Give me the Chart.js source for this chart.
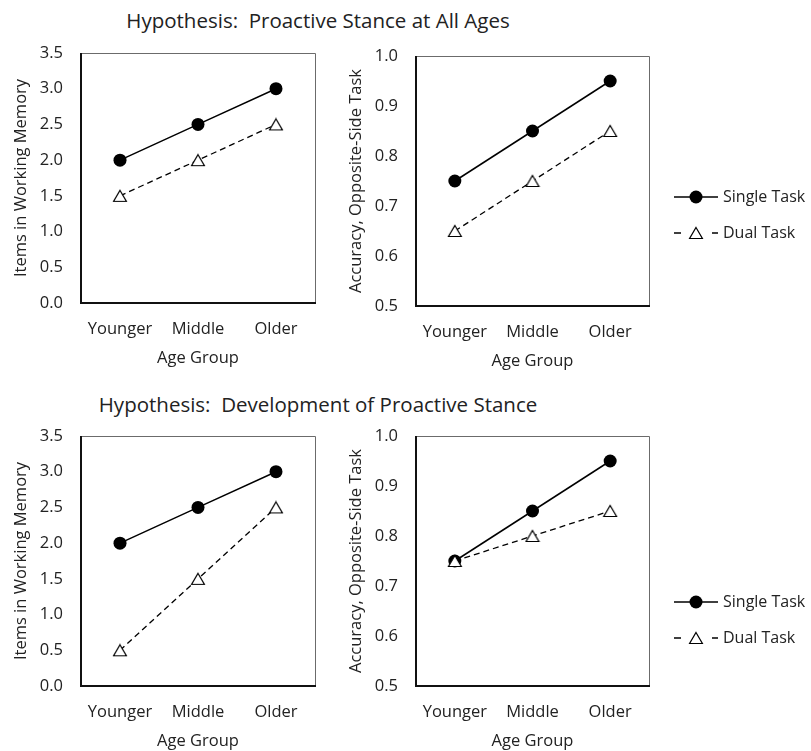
<!DOCTYPE html>
<html>
<head>
<meta charset="utf-8">
<script src="https://cdn.jsdelivr.net/npm/chart.js@4"></script>
<style>
  body { margin: 0; background: #fff; width: 811px; height: 751px; position: relative; overflow: hidden; font-family: "Open Sans", sans-serif; }
  canvas { position: absolute; }
  .row-title { position: absolute; left: 0; width: 636px; text-align: center; font-size: 20.5px; line-height: 24px; color: #222; white-space: pre; }
</style>
</head>
<body>
<div class="row-title" style="top:8px">Hypothesis:  Proactive Stance at All Ages</div>
<div class="row-title" style="top:392px">Hypothesis:  Development of Proactive Stance</div>
<canvas id="allAgesMemory" width="330" height="345" style="left:0;top:23px;width:330px;height:345px"></canvas>
<canvas id="allAgesAccuracy" width="471" height="345" style="left:340px;top:26px;width:471px;height:345px"></canvas>
<canvas id="devMemory" width="330" height="345" style="left:0;top:406px;width:330px;height:345px"></canvas>
<canvas id="devAccuracy" width="471" height="345" style="left:340px;top:406px;width:471px;height:345px"></canvas>
<script>
// Shared categories, series names and axis ticks
const ageGroups = ['Younger', 'Middle', 'Older'];
const seriesNames = ['Single Task', 'Dual Task'];
const memoryTicks = [0, 0.5, 1.0, 1.5, 2.0, 2.5, 3.0, 3.5];
const accuracyTicks = [0.5, 0.6, 0.7, 0.8, 0.9, 1.0];

// Hypothesis: proactive stance at all ages
const allAgesMemorySingle = [2.0, 2.5, 3.0];
const allAgesMemoryDual = [1.5, 2.0, 2.5];
const allAgesAccuracySingle = [0.75, 0.85, 0.95];
const allAgesAccuracyDual = [0.65, 0.75, 0.85];

// Hypothesis: development of proactive stance
const devMemorySingle = [2.0, 2.5, 3.0];
const devMemoryDual = [0.5, 1.5, 2.5];
const devAccuracySingle = [0.75, 0.85, 0.95];
const devAccuracyDual = [0.75, 0.80, 0.85];

const TEXT = '#222';
const FONT = '"Open Sans", sans-serif';
const AXIS_FONT = { size: 16.5, family: FONT };

// Open triangle marker, centred on its bounding box
function makeTriangle() {
  const c = document.createElement('canvas');
  c.width = 16; c.height = 14;
  const g = c.getContext('2d');
  g.beginPath();
  g.moveTo(8, 1.5); g.lineTo(14.4, 12.5); g.lineTo(1.6, 12.5); g.closePath();
  g.fillStyle = '#fff'; g.fill();
  g.lineWidth = 1.2; g.strokeStyle = '#000'; g.stroke();
  return c;
}
const triangle = makeTriangle();

function seriesSets(single, dual) {
  return [
    { label: seriesNames[0], data: single, borderColor: '#000', backgroundColor: '#000',
      borderWidth: 1.5, pointStyle: 'circle', pointRadius: 6.5, pointBorderWidth: 0,
      tension: 0, fill: false, order: 1 },
    { label: seriesNames[1], data: dual, borderColor: '#000', backgroundColor: '#fff',
      borderWidth: 1.3, borderDash: [6, 4], pointStyle: triangle, pointRadius: 7,
      keyDash: [7, 31], tension: 0, fill: false, order: 0 }
  ];
}

// Box round the plot area: dark axes on the left/bottom, lighter edges top/right
const plotFrame = {
  id: 'plotFrame',
  beforeDatasetsDraw(chart) {
    const { ctx, chartArea: a } = chart;
    ctx.save();
    ctx.strokeStyle = '#6b6b6b'; ctx.lineWidth = 1;
    ctx.beginPath();
    ctx.moveTo(a.left, a.top + 0.5); ctx.lineTo(a.right + 0.5, a.top + 0.5); ctx.lineTo(a.right + 0.5, a.bottom);
    ctx.stroke();
    ctx.strokeStyle = '#111'; ctx.lineWidth = 2;
    ctx.beginPath();
    ctx.moveTo(a.left, a.top); ctx.lineTo(a.left, a.bottom); ctx.lineTo(a.right + 1, a.bottom);
    ctx.stroke();
    ctx.restore();
  }
};

// Series key drawn to the right of the plot: line sample, marker, name
const seriesKey = {
  id: 'seriesKey',
  afterDraw(chart, args, opts) {
    if (!opts || !opts.rows) return;
    const { ctx, chartArea: a } = chart;
    ctx.save();
    chart.data.datasets.forEach((ds, i) => {
      const y = a.top + opts.rows[i];
      const x0 = a.right + opts.lineStart;
      const x1 = x0 + opts.lineLength;
      const xm = (x0 + x1) / 2;
      ctx.beginPath();
      ctx.setLineDash(ds.keyDash || []);
      ctx.lineWidth = ds.borderWidth;
      ctx.strokeStyle = ds.borderColor;
      ctx.moveTo(x0, y); ctx.lineTo(x1, y); ctx.stroke();
      ctx.setLineDash([]);
      if (ds.pointStyle === 'circle') {
        ctx.beginPath();
        ctx.arc(xm, y, ds.pointRadius, 0, Math.PI * 2);
        ctx.fillStyle = ds.backgroundColor; ctx.fill();
      } else {
        ctx.drawImage(ds.pointStyle, xm - ds.pointStyle.width / 2, y - ds.pointStyle.height / 2);
      }
      ctx.fillStyle = TEXT;
      ctx.font = '16px ' + FONT;
      ctx.textAlign = 'left'; ctx.textBaseline = 'middle';
      ctx.fillText(ds.label, x1 + 5, y);
    });
    ctx.restore();
  }
};

function buildChart(id, single, dual, yTicks, yTitle, padding, key) {
  return new Chart(document.getElementById(id), {
    type: 'line',
    data: { labels: ageGroups, datasets: seriesSets(single, dual) },
    options: {
      responsive: false, animation: false, devicePixelRatio: 1,
      layout: { padding: padding },
      plugins: { legend: { display: false }, tooltip: { enabled: false }, seriesKey: key || {} },
      scales: {
        x: {
          type: 'category', offset: true,
          grid: { display: false, drawTicks: false, tickLength: 0 }, border: { display: false },
          ticks: { color: TEXT, font: AXIS_FONT, padding: 16, maxRotation: 0, autoSkip: false },
          title: { display: true, text: 'Age Group', color: TEXT, font: AXIS_FONT, padding: 0 },
          afterFit(s) { s.height = 65; }
        },
        y: {
          type: 'linear', min: yTicks[0], max: yTicks[yTicks.length - 1],
          grid: { display: false, drawTicks: false, tickLength: 0 }, border: { display: false },
          afterBuildTicks(s) { s.ticks = yTicks.map(v => ({ value: v })); },
          ticks: { color: TEXT, font: AXIS_FONT, padding: 18, callback: v => Number(v).toFixed(1) },
          title: { display: true, text: yTitle, color: TEXT, font: AXIS_FONT, padding: 0 },
          afterFit(s) { s.width = 70; }
        }
      }
    },
    plugins: [plotFrame, seriesKey]
  });
}

const memTitle = 'Items in Working Memory';
const accTitle = 'Accuracy, Opposite-Side Task';

buildChart('allAgesMemory', allAgesMemorySingle, allAgesMemoryDual, memoryTicks, memTitle,
  { top: 30, left: 11, right: 15, bottom: 0 });
buildChart('allAgesAccuracy', allAgesAccuracySingle, allAgesAccuracyDual, accuracyTicks, accTitle,
  { top: 30, left: 6, right: 162, bottom: 0 },
  { rows: [141, 177], lineStart: 25, lineLength: 44 });
buildChart('devMemory', devMemorySingle, devMemoryDual, memoryTicks, memTitle,
  { top: 30, left: 11, right: 15, bottom: 0 });
buildChart('devAccuracy', devAccuracySingle, devAccuracyDual, accuracyTicks, accTitle,
  { top: 30, left: 6, right: 162, bottom: 0 },
  { rows: [166, 202], lineStart: 25, lineLength: 44 });
</script>
</body>
</html>
